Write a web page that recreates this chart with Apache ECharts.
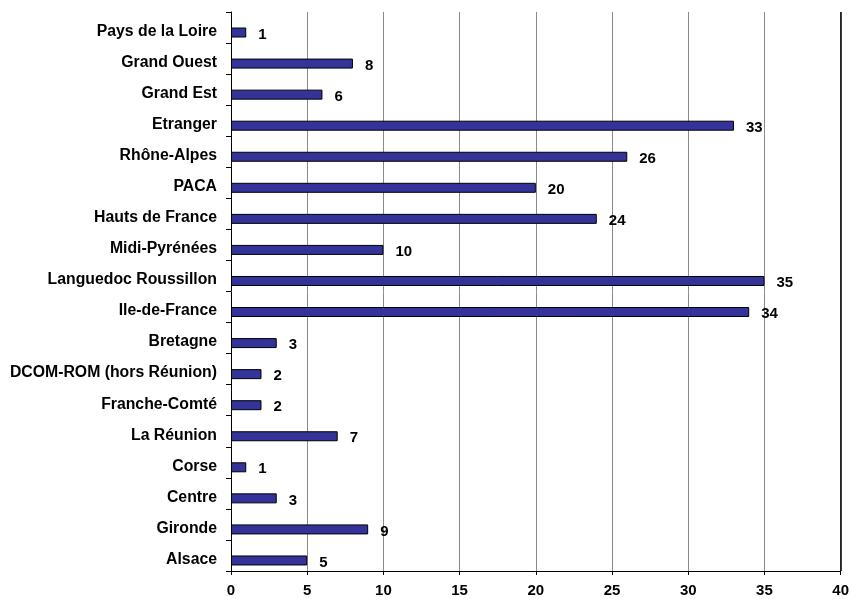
<!DOCTYPE html>
<html>
<head>
<meta charset="utf-8">
<script src="https://cdn.jsdelivr.net/npm/echarts@6/dist/echarts.min.js"></script>
<style>
html,body{margin:0;padding:0;background:#fff;}
#chart{width:852px;height:599px;}
</style>
</head>
<body>
<div id="chart"></div>
<script>
var categories = ["Pays de la Loire","Grand Ouest","Grand Est","Etranger","Rhône-Alpes","PACA","Hauts de France","Midi-Pyrénées","Languedoc Roussillon","Ile-de-France","Bretagne","DCOM-ROM (hors Réunion)","Franche-Comté","La Réunion","Corse","Centre","Gironde","Alsace"];
var values = [1,8,6,33,26,20,24,10,35,34,3,2,2,7,1,3,9,5];
var xTicks = [0,5,10,15,20,25,30,35,40];

var chart = echarts.init(document.getElementById('chart'));
var font = 'Liberation Sans, Arial, sans-serif';
chart.setOption({
  animation: false,
  grid: {left: 231, right: 7, top: 12, bottom: 28, containLabel: false},
  xAxis: {
    type: 'value', min: xTicks[0], max: xTicks[xTicks.length-1], interval: 5,
    axisLine: {show: true, lineStyle: {color: '#000', width: 1}},
    axisTick: {show: true, length: 4, lineStyle: {color: '#000'}},
    axisLabel: {color: '#000', fontFamily: font, fontWeight: 'bold', fontSize: 15, margin: 12},
    splitLine: {show: true, showMinLine: false, lineStyle: {color: '#8a8a8a', width: 1}}
  },
  yAxis: {
    type: 'category', data: categories, inverse: true,
    axisLine: {show: true, lineStyle: {color: '#000', width: 1}},
    axisTick: {show: true, length: 5, lineStyle: {color: '#000'}},
    axisLabel: {
      color: '#000', fontFamily: font, fontWeight: 'bold', fontSize: 16, margin: 14,
      formatter: function (v) { return '{a|' + v + '}'; },
      rich: {a: {color: '#000', fontFamily: font, fontWeight: 'bold', fontSize: 15.8, padding: [8, 0, 0, 0]}}
    },
    splitLine: {show: false}
  },
  series: [
    {type: 'bar', data: [], barWidth: 10, barGap: '0%'},
    {
      type: 'bar', data: values, barWidth: 10, barGap: '0%',
      itemStyle: {color: '#333399', borderColor: '#000', borderWidth: 1},
      label: {show: true, position: 'right', distance: 12, offset: [0, 2], color: '#000', fontFamily: font, fontWeight: 'bold', fontSize: 15},
      markLine: {
        silent: true, symbol: 'none', label: {show: false},
        lineStyle: {color: '#000', type: 'solid', width: 1.5},
        data: [{xAxis: xTicks[xTicks.length-1]}]
      }
    }
  ]
});
</script>
</body>
</html>
